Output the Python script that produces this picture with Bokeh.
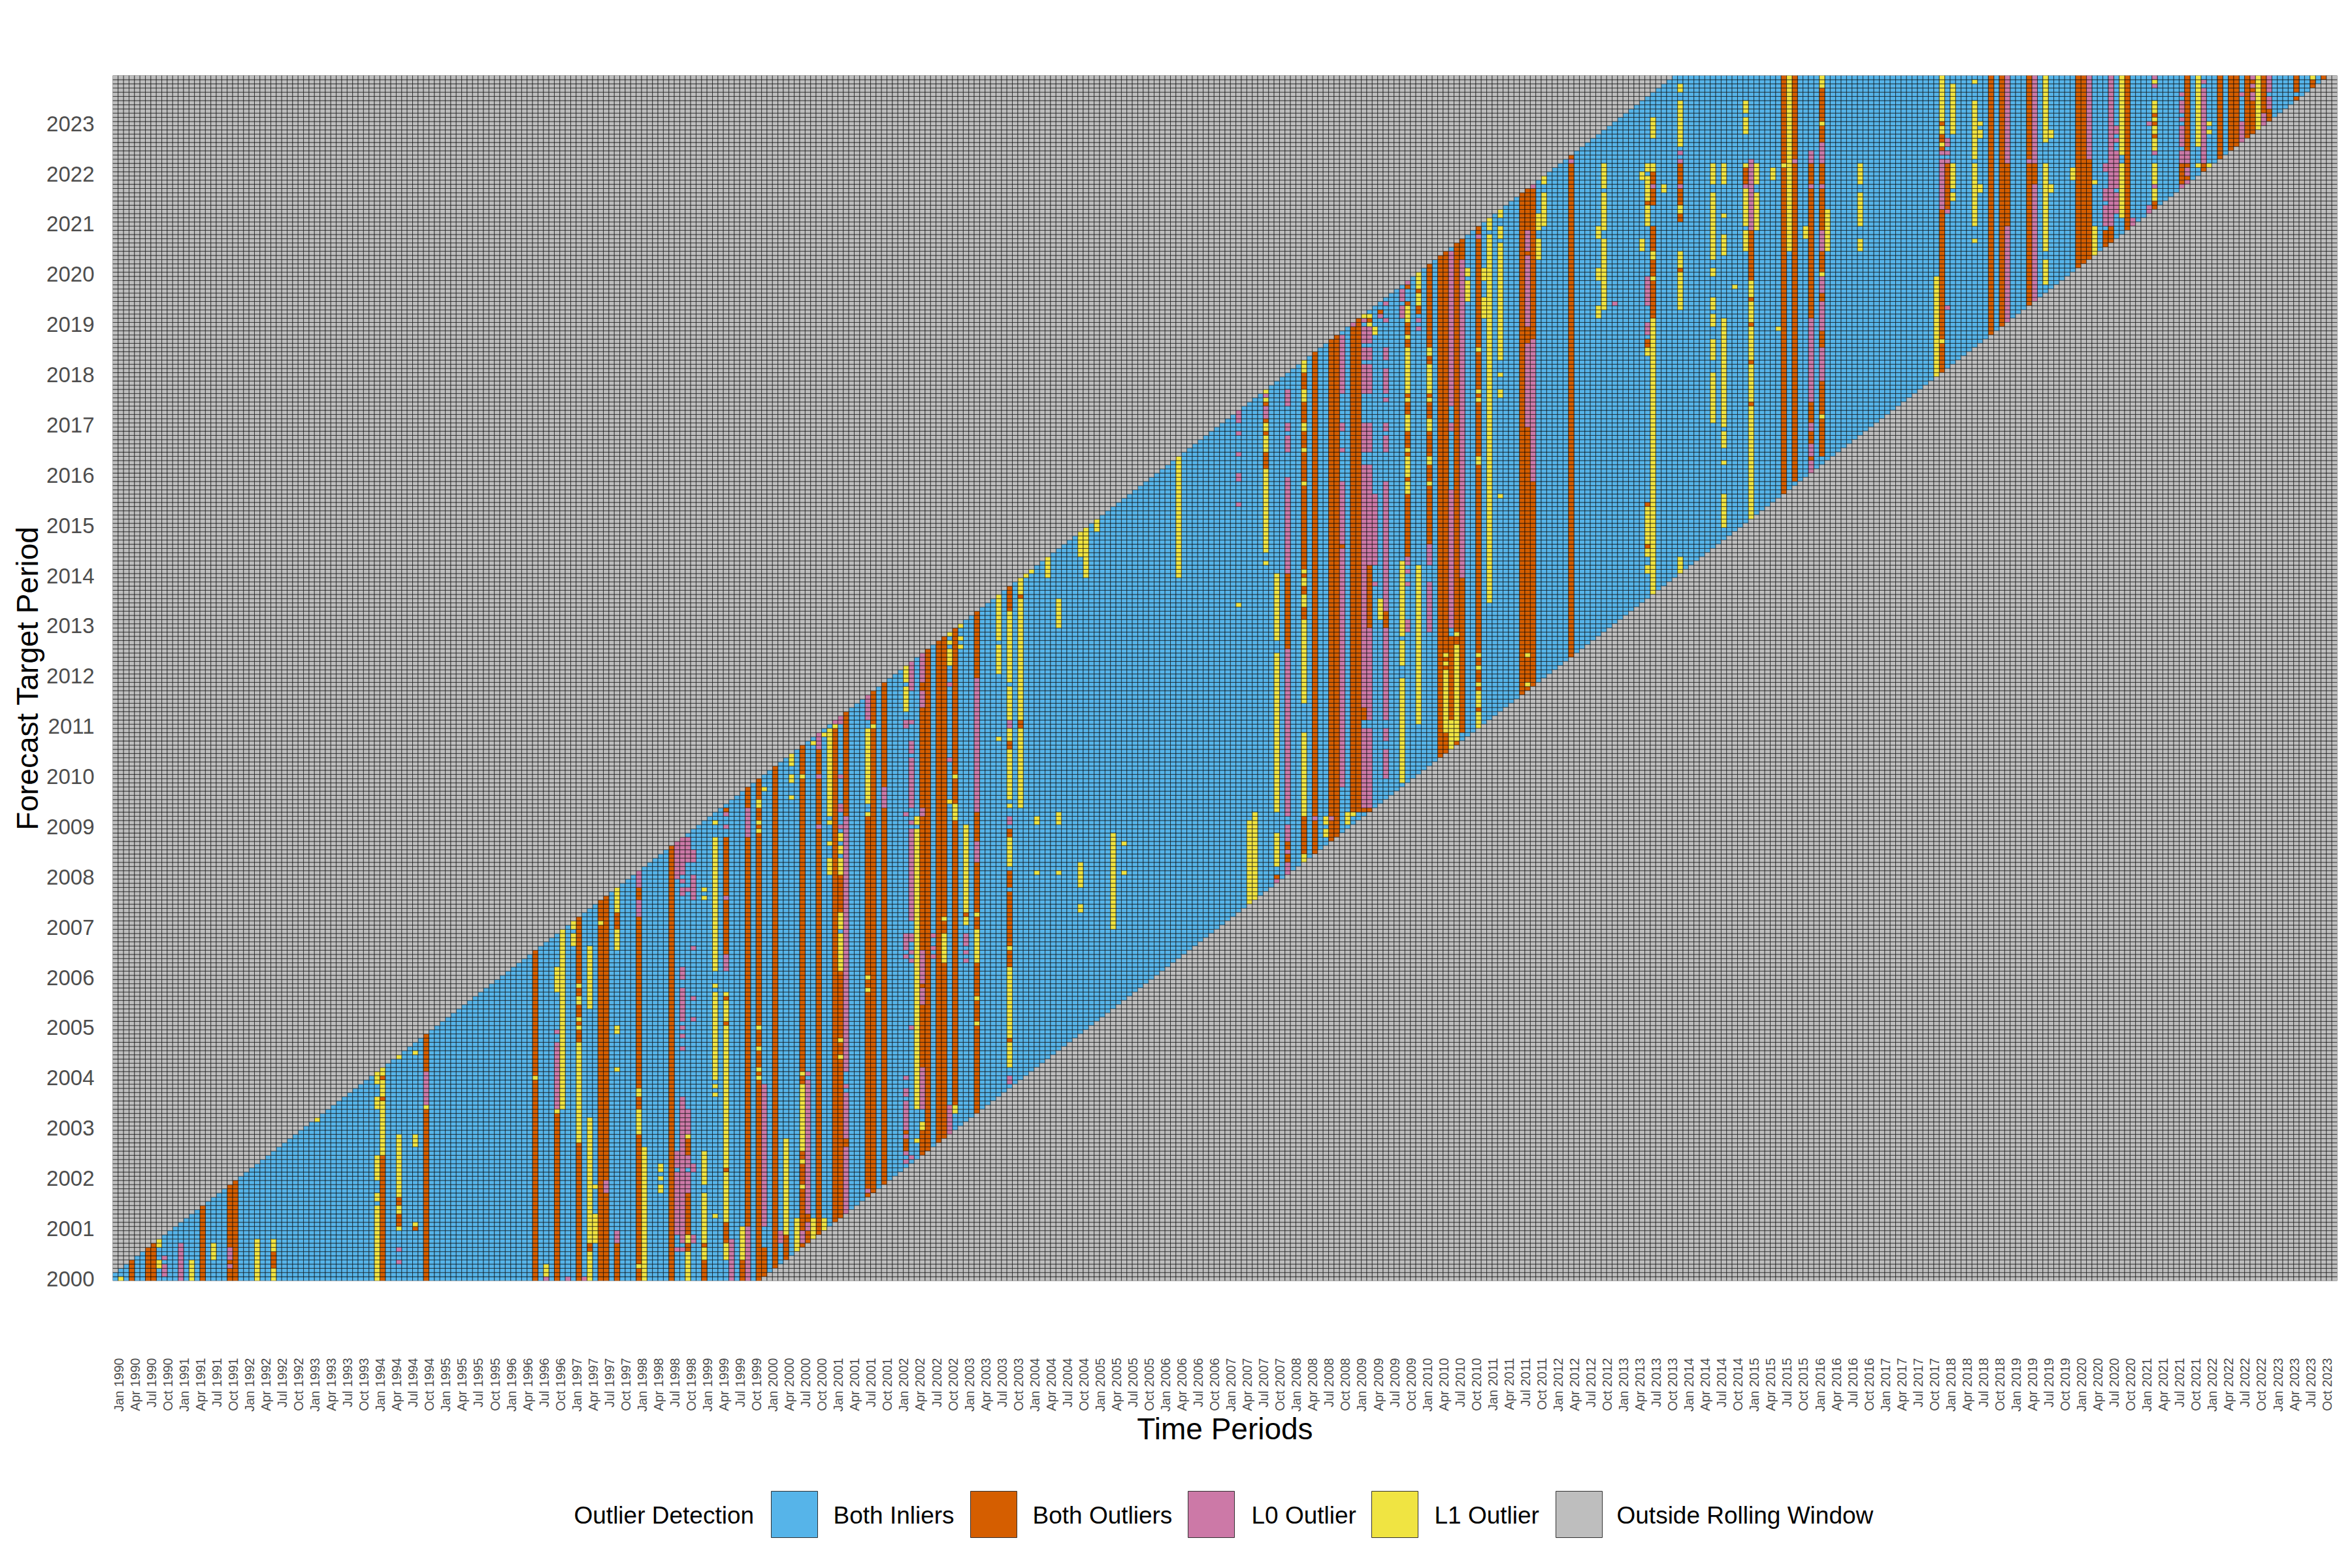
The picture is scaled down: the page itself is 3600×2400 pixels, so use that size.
import numpy as np
from bokeh.plotting import figure
from bokeh.layouts import column
from bokeh.core.properties import value
from bokeh.models import FixedTicker, ColumnDataSource
from bokeh.embed import file_html
from bokeh.resources import INLINE

N_COLS = 408   # Jan 1990 .. Dec 2023
N_ROWS = 288   # Jan 2000 .. Dec 2023
START_YEAR = 1990
TARGET_YEARS = list(range(2000, 2024))
MONTHS = ["Jan", "Apr", "Jul", "Oct"]
WINDOW_BEHIND = 118
WINDOW_AHEAD = 1

LEGEND_TITLE = "Outlier Detection"
STATUS = ["Both Inliers", "Both Outliers", "L0 Outlier", "L1 Outlier", "Outside Rolling Window"]
COLOURS = ["#56B4E9", "#D55E00", "#CC79A7", "#F0E442", "#BEBEBE"]

# (period column, first target row, last target row)
BOTH = [(3,0,4),(6,0,7),(7,0,8),(16,0,17),(21,0,22),(22,0,23),(29,3,6),(49,0,29),(49,43,43),(49,48,48),(52,13,15),(52,18,19),(55,12,12),(57,0,58),
(77,0,78),(81,0,39),(85,0,86),(87,7,8),(89,0,90),(90,0,91),(92,0,8),(92,84,87),(96,0,97),(102,0,103),
(105,7,8),(105,11,20),(105,30,33),(108,0,4),(108,8,8),
(112,9,13),(112,26,26),(112,61,61),(112,67,67),(112,78,90),(112,92,105),(112,112,112),
(115,0,4),(116,13,118),(118,0,119),(119,1,7),(121,3,122),(123,5,10),(126,8,127),(127,9,11),(127,14,15),
(129,11,126),(132,14,131),(133,15,73),(133,88,96),(134,32,33),(134,111,135),
(138,20,110),(139,21,140),(141,23,142),(145,31,33),(145,35,35),
(148,30,35),(148,51,65),(148,70,70),(148,79,148),(149,31,150),(151,33,152),(152,34,153),(154,42,155),
(156,87,87),(158,40,159),(164,57,57),(164,75,78),(164,80,92),(164,94,97),(164,106,107),(164,127,128),(164,160,165),
(166,132,133),(166,163,163),
(211,194,197),(211,202,202),(211,205,205),(211,209,209),
(213,96,96),(215,100,101),(215,103,104),(215,151,168),
(218,102,110),(218,158,160),(218,164,165),(218,168,168),(218,170,189),(218,191,197),(218,199,202),(218,205,209),(218,213,216),
(220,102,221),(223,105,225),(224,106,226),(225,175,175),(227,112,228),(228,112,230),
(229,112,112),(229,134,136),(230,112,112),(230,156,170),(230,229,229),(232,231,231),(233,156,159),
(237,173,187),(237,191,191),(237,197,197),(237,199,202),(237,207,209),(237,211,211),(237,223,224),(237,226,228),(237,233,233),(237,237,237),
(239,231,232),(239,236,236),
(241,176,189),(241,191,194),(241,197,202),(241,206,209),(241,211,211),(241,219,220),(241,223,243),
(243,125,244),(244,126,245),(245,134,153),(246,128,248),(247,131,167),(247,244,248),
(250,132,251),(258,140,259),(259,141,260),(260,141,190),(260,225,260),(267,149,269),
(281,175,175),(281,185,185),(281,223,224),(281,257,257),(282,230,251),(282,257,260),(282,262,264),
(287,241,241),(287,253,254),(287,257,260),(287,262,266),
(299,262,265),(300,209,209),(300,219,219),(300,228,228),(300,234,234),(300,239,250),
(306,188,287),(308,191,287),(311,193,269),(313,197,284),(335,217,255),(335,270,270),(335,272,273),(335,276,276),(336,256,266),
(344,226,287),(346,228,287),(347,252,266),(351,233,287),(352,262,266),
(360,242,287),(361,243,287),(362,244,267),(365,247,250),(366,248,251),(369,251,287),
(374,256,257),(374,273,273),(374,276,276),(374,278,278),(379,262,266),(380,263,263),(380,266,266),(380,270,287),(383,265,266),(386,268,287),(388,270,287),(389,271,287),(391,273,287),(392,274,287),(394,279,287),(395,277,279),(400,282,282),(400,284,287),(403,285,286),(405,287,287)]

L0_ONLY = [(9,1,3),(9,5,5),(12,0,8),(21,3,3),(21,5,7),(52,4,4),(52,7,7),(57,42,44),(57,45,49),(79,0,0),(81,41,55),(81,56,56),(81,59,59),(83,0,0),(86,0,0),(90,21,23),(92,9,11),(96,87,90),(96,94,97),
(103,7,7),(103,11,25),(103,27,30),(103,96,104),
(104,7,7),(104,9,10),(104,11,39),(104,40,42),(104,43,43),(104,55,55),(104,58,58),(104,60,60),(104,62,67),(104,68,69),(104,72,74),(104,92,93),(104,95,95),(104,97,105),
(105,21,25),(105,27,29),(105,35,40),(105,93,93),(105,100,105),
(106,9,10),(106,26,27),(106,62,62),(106,67,67),(106,79,79),(106,91,96),(106,100,102),
(112,74,77),(112,91,91),(112,108,108),(112,111,111),(113,0,9),(116,0,12),(116,106,112),(119,13,46),(122,9,11),
(126,9,11),(127,12,13),(127,16,43),(127,44,47),(127,49,49),
(129,108,108),(129,120,120),(129,127,130),(132,133,133),(133,108,108),(133,112,113),(133,120,120),(133,133,134),
(134,16,31),(134,34,44),(134,46,46),(134,50,110),(138,21,21),(138,134,139),
(141,113,117),(145,28,28),(145,30,30),(145,34,34),(145,36,42),(145,44,45),(145,48,48),(145,77,77),(145,79,82),(145,111,111),(145,132,133),
(146,29,29),(146,60,60),(146,76,76),(146,78,78),(146,81,82),(146,86,107),(146,109,109),(146,113,124),(146,126,128),(146,133,133),(146,141,147),
(148,41,50),(148,66,69),(148,71,78),(148,111,112),(148,137,140),(148,143,149),
(150,77,77),(150,79,79),(150,82,82),(153,35,41),(153,124,124),(153,142,142),
(156,76,76),(156,78,78),(156,80,82),(158,100,104),(158,112,143),
(164,47,48),(164,109,110),(164,132,133),
(206,185,185),(206,191,192),(206,197,197),(206,202,202),(206,205,208),
(211,206,208),(211,211,211),(213,95,95),
(215,97,99),(215,102,102),(215,105,108),(215,111,113),(215,114,118),(215,119,130),(215,131,150),(215,169,191),(215,198,201),(215,203,204),(215,209,212),
(220,110,110),(223,110,110),
(225,118,174),(225,176,190),(225,198,198),(225,203,204),(225,212,225),
(227,228,228),
(229,113,131),(229,137,194),(229,198,204),(229,212,218),(229,220,222),(229,224,227),(229,229,229),
(230,113,131),(230,134,155),(230,171,194),(230,198,204),(230,212,218),(230,220,222),(230,224,227),
(231,166,166),(231,171,187),(232,230,230),
(233,120,126),(233,129,131),(233,134,155),(233,160,190),(233,198,201),(233,203,204),(233,210,210),(233,212,217),(233,220,222),(233,229,229),(233,233,233),
(236,230,232),(236,234,236),(237,155,157),(237,166,166),(237,169,169),(237,171,172),(237,238,238),
(239,227,227),(239,229,229),(241,155,166),(241,171,175),
(245,156,185),(245,186,188),(245,203,204),(245,209,219),(245,220,245),
(247,168,219),(247,220,243),(250,249,249),
(259,204,223),(259,228,244),(259,246,250),(260,191,224),(260,261,261),
(267,267,267),(275,233,233),(281,226,228),(281,233,236),(281,237,239),(282,261,261),(287,261,261),(287,267,267),(287,269,269),
(299,261,261),(300,251,267),
(308,267,267),(311,193,195),(311,197,199),(311,203,204),(311,210,229),(311,261,261),(311,267,269),
(313,215,222),(313,227,233),(313,236,239),(313,246,250),(313,261,261),(313,267,269),(313,270,271),
(335,256,267),(335,269,269),
(336,232,232),(336,255,255),(336,267,267),(336,269,269),(336,271,272),
(347,229,251),(347,267,267),(347,268,287),(351,267,267),(352,234,261),(352,267,287),
(362,268,287),(365,252,256),(365,258,260),(365,265,266),
(366,252,287),(367,255,259),(367,261,269),(367,272,272),(367,274,275),(370,252,253),
(373,255,256),(373,276,276),(374,255,255),(374,261,261),(374,269,269),(374,285,285),(374,287,287),
(379,261,261),(379,267,269),(379,271,275),(379,277,277),(379,279,281),(379,283,283),
(380,262,262),(380,264,265),(380,267,269),(383,267,284),(383,286,286),
(390,272,276),(390,283,283),(392,282,283),(392,285,285),(392,287,287),(394,276,278),(395,280,282),(395,284,287)]

L1_ONLY = [(1,0,0),(8,8,9),(8,3,4),(14,0,4),(18,5,8),(26,0,9),(29,0,2),(29,7,9),(37,38,38),
(48,0,17),(48,19,20),(48,24,29),(48,41,43),(48,47,49),
(49,30,42),(49,44,47),(49,49,50),
(52,12,12),(52,16,17),(52,20,34),(52,53,53),(55,13,13),(55,32,34),(55,54,54),(57,41,41),
(77,48,48),(79,1,3),(81,40,40),(81,69,74),(82,41,83),(84,80,82),(84,84,85),
(85,33,56),(85,62,62),(85,60,60),(85,66,67),(85,70,70),
(87,0,6),(87,9,38),(87,65,79),(88,9,15),(88,22,22),(89,85,85),
(92,50,50),(92,59,60),(92,79,83),(92,88,93),
(96,3,3),(96,35,40),(96,44,45),(97,0,31),(100,21,22),(100,24,24),(100,26,27),
(105,0,6),(105,9,10),(105,34,34),
(108,5,7),(108,9,15),(108,16,20),(108,23,30),(108,91,91),(108,93,93),
(110,15,15),(110,44,44),(110,46,46),(110,48,67),(110,68,68),(110,70,70),(110,74,105),(110,109,109),
(112,5,8),(112,14,25),(112,27,60),(112,62,66),(112,68,68),
(115,5,12),(118,48,48),(118,50,50),(118,55,55),(118,60,60),(118,107,107),(118,109,109),(118,113,114),
(119,117,117),(123,11,33),(124,115,115),(124,119,120),(124,123,125),(125,7,14),
(126,22,22),(126,28,28),(126,31,46),(126,49,49),(126,120,120),
(128,10,14),(128,128,128),(130,12,14),(130,130,130),(131,97,100),(131,104,104),(131,109,109),(131,111,131),(132,132,132),
(133,53,53),(133,57,57),(133,74,82),(133,84,87),(133,97,100),(133,102,103),(133,105,106),
(138,69,69),(138,72,72),(138,111,111),(138,114,131),(139,132,132),
(145,136,141),(145,143,146),
(147,33,33),(147,41,47),(147,48,83),(147,84,107),(147,109,110),
(148,36,37),(152,76,82),(152,86,86),(153,114,114),(153,147,150),(153,152,152),(153,154,154),
(154,40,41),(154,110,113),(154,120,120),(155,151,151),(155,153,153),(155,156,156),
(156,85,86),(156,88,108),(158,61,61),(158,67,67),(158,76,83),(158,87,87),
(162,129,129),(162,145,151),(162,153,164),(164,51,56),(164,58,74),(164,79,79),(164,99,105),(164,113,113),(164,115,126),(164,129,131),(164,134,141),(164,143,159),
(166,113,131),(166,134,157),(166,158,162),(166,164,168),(167,168,168),(168,169,169),(169,97,97),(169,109,110),(171,168,172),(173,97,97),(173,109,111),(173,156,162),(177,88,89),(177,94,99),(177,173,178),(178,168,180),(180,179,181),(183,84,106),(185,97,97),(185,104,104),(195,168,196),(206,161,161),(208,90,109),(209,90,111),
(211,171,171),(211,174,193),(211,198,201),(211,203,204),(211,210,210),(211,212,212),
(213,99,102),(213,103,106),(213,112,149),(213,153,168),
(218,100,101),(218,111,130),(218,138,157),(218,161,163),(218,166,167),(218,169,169),(218,190,190),(218,198,198),(218,203,204),(218,210,212),(218,217,219),
(222,106,107),(222,109,110),(226,109,111),(227,111,111),
(229,230,230),(230,228,228),(230,230,230),(231,226,227),(232,158,162),
(236,119,143),(236,147,149),(236,150,152),(236,154,171),
(237,188,190),(237,192,196),(237,198,198),(237,203,206),(237,210,210),(237,212,222),(237,225,225),(237,229,232),
(239,133,170),(239,233,235),(239,237,240),
(241,190,190),(241,195,196),(241,203,205),(241,210,210),(241,212,218),(241,221,222),
(244,131,145),(244,147,147),(244,149,149),(245,127,133),(246,129,151),(246,154,154),
(248,234,238),(248,240,241),
(250,132,135),(250,137,140),(250,142,142),(250,146,146),(250,149,149),(250,195,196),(250,210,210),(250,212,212),(250,222,222),
(251,230,234),(251,239,241),(252,162,249),(252,251,254),(254,187,187),(254,211,212),(254,216,216),(254,220,226),(254,227,247),(254,249,251),(254,254,255),
(259,142,142),(259,149,149),(261,244,248),(261,251,254),(262,252,259),(262,262,263),(272,230,232),(272,239,241),(272,249,251),
(273,232,241),(273,242,248),(273,251,259),(273,261,261),(273,262,266),
(280,246,248),(280,263,264),(281,169,170),(281,173,174),(281,176,184),(281,221,222),(281,252,256),(281,258,259),(281,260,261),(281,262,263),(281,265,266),
(282,164,229),(282,239,239),(282,244,245),(282,265,266),(282,273,277),
(284,260,261),(287,169,172),(287,232,240),(287,242,245),(287,255,256),(287,271,281),(287,284,285),
(293,205,216),(293,220,224),(293,228,230),(293,232,234),(293,240,241),(293,244,259),(293,262,266),
(295,180,187),(295,195,195),(295,199,202),(295,204,229),(295,245,249),(295,254,254),(295,262,266),
(297,237,237),(299,246,250),(299,252,260),(299,266,266),(299,274,277),(299,279,281),
(300,182,208),(300,210,218),(300,220,227),(300,229,233),(300,235,238),
(301,251,259),(301,262,266),(304,263,265),(305,227,227),(306,266,266),(307,246,267),(307,268,287),(310,249,251),(313,206,206),(313,240,240),(313,276,276),(313,285,287),(314,246,250),(314,251,255),(320,246,248),(320,252,259),(320,262,266),
(334,216,239),(335,224,224),(335,271,271),(335,274,275),(335,277,287),(337,258,259),(337,261,266),(337,274,285),
(341,248,248),(341,252,266),(341,268,281),(341,286,286),(342,260,261),(342,273,274),(342,276,276),
(354,238,243),(354,246,266),(354,272,287),(355,260,261),(355,273,274),(359,263,265),
(363,245,248),(363,249,251),(363,262,262),(368,254,266),(368,269,287),
(374,258,260),(374,262,266),(374,270,272),(374,274,275),(374,277,277),(374,279,281),(374,286,286),
(382,266,266),(382,271,287),(384,266,266),(384,274,274),(384,276,276),(393,275,287),(403,287,287)]

# status grid: start from the rolling window, then lay the runs in
grid = np.full((N_ROWS, N_COLS), 4, dtype=int)
for c in range(N_COLS):
    lo, hi = max(c - WINDOW_BEHIND, 0), min(c + WINDOW_AHEAD, N_ROWS - 1)
    if lo <= hi:
        grid[lo:hi + 1, c] = 0
for code, runs in ((1, BOTH), (2, L0_ONLY), (3, L1_ONLY)):
    for c, r0, r1 in runs:
        for r in range(r0, r1 + 1):
            if grid[r, c] != 4:
                grid[r, c] = code

FONT = "Liberation Sans"
TOTAL_W = 3584
MAIN_H = 2250
LEG_H = 134
FRAME_L, FRAME_R = 172, 3577
p = figure(width=TOTAL_W, height=MAIN_H, output_backend="svg", toolbar_location=None,
           x_range=(0, N_COLS), y_range=(0, N_ROWS), background_fill_color="white",
           border_fill_color="white", outline_line_color=None,
           min_border_left=FRAME_L, min_border_right=TOTAL_W - FRAME_R, min_border_top=115,
           min_border_bottom=MAIN_H - 1960)
p.grid.visible = False

for code, (name, colour) in enumerate(zip(STATUS, COLOURS)):
    rows, cols = np.nonzero(grid == code)
    src = ColumnDataSource(dict(x=cols + 0.5, y=rows + 0.5))
    p.rect("x", "y", 1, 1, source=src, fill_color=colour, line_color="#000000", line_width=0.6, name=name)

LABEL_SHIFT = 0.6
xt = list(range(0, N_COLS, 3))[:136]
xpos = [i + 0.5 + LABEL_SHIFT for i in xt]
xlab = {pos: f"{MONTHS[(i // 3) % 4]} {START_YEAR + i // 12}" for pos, i in zip(xpos, xt)}
ax = p.xaxis[0]
ax.ticker = FixedTicker(ticks=xpos)
ax.major_label_overrides = xlab
ax.major_label_orientation = np.pi / 2
ax.major_label_standoff = 112
ax.major_label_text_font = FONT
ax.major_label_text_font_size = "20px"
ax.major_label_text_color = "#4D4D4D"
ax.axis_line_color = None
ax.major_tick_line_color = None
ax.minor_tick_line_color = None
ax.axis_label = "Time Periods"
ax.axis_label_text_font = FONT
ax.axis_label_text_font_style = "normal"
ax.axis_label_text_font_size = "46px"
ax.axis_label_text_color = "#000000"
ax.axis_label_standoff = -3

ypos = [12 * i + 0.5 for i in range(len(TARGET_YEARS))]
ay = p.yaxis[0]
ay.ticker = FixedTicker(ticks=ypos)
ay.major_label_overrides = {pos: str(y) for pos, y in zip(ypos, TARGET_YEARS)}
ay.major_label_standoff = 22
ay.major_label_text_font = FONT
ay.major_label_text_font_size = "33px"
ay.major_label_text_color = "#4D4D4D"
ay.axis_line_color = None
ay.major_tick_line_color = None
ay.minor_tick_line_color = None
ay.axis_label = "Forecast Target Period"
ay.axis_label_text_font = FONT
ay.axis_label_text_font_style = "normal"
ay.axis_label_text_font_size = "46px"
ay.axis_label_text_color = "#000000"
ay.axis_label_standoff = 0

# legend strip: the column aligns its frame with the main frame, so its ranges are page pixels
leg = figure(width=TOTAL_W, height=LEG_H, output_backend="svg", toolbar_location=None,
             x_range=(FRAME_L, FRAME_R), y_range=(MAIN_H + LEG_H, MAIN_H), outline_line_color=None,
             min_border=0, background_fill_color="white", border_fill_color="white")
leg.axis.visible = False
leg.grid.visible = False
KEY_LEFT = [1180, 1485, 1818, 2099, 2381]
LABEL_LEFT = [878, 1275, 1580, 1915, 2195, 2474]
KEY_SIZE = 71
KEY_TOP = 2282
leg.quad(left=KEY_LEFT, right=[k + KEY_SIZE for k in KEY_LEFT], top=[KEY_TOP] * 5, bottom=[KEY_TOP + 71] * 5,
         fill_color=COLOURS, line_color="#333333", line_width=1)
leg.text(x=LABEL_LEFT, y=[KEY_TOP + 37] * 6,
         text=[LEGEND_TITLE] + STATUS, text_font=value(FONT), text_font_size="37px",
         text_color="#000000", text_baseline="middle", text_align="left")

open("out.html", "w").write(file_html(column(p, leg, spacing=0), INLINE))
